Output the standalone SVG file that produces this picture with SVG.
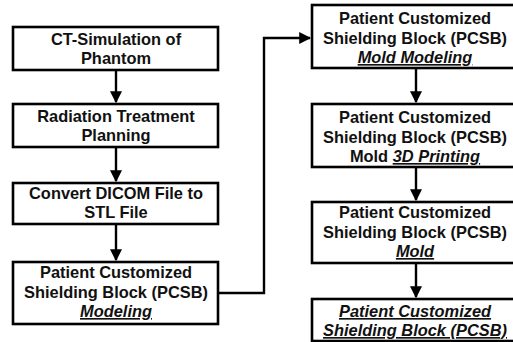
<svg xmlns="http://www.w3.org/2000/svg" width="513" height="342" viewBox="0 0 513 342">
<style>
.box{fill:#fff;stroke:#000;stroke-width:2.6}
.t{font-family:"Liberation Sans",Arial,sans-serif;font-weight:bold;font-size:16.4px;fill:#111;text-anchor:middle}
.u{font-style:italic;text-decoration:underline}
.c{fill:none;stroke:#000;stroke-width:2.4}
</style>
<defs>
<marker id="ah" viewBox="0 0 10 10" refX="9" refY="5" markerWidth="5" markerHeight="5" markerUnits="strokeWidth" orient="auto">
<path d="M0,0 L10,5 L0,10 z" fill="#000"/>
</marker>
</defs>
<rect width="513" height="342" fill="#fff"/>
<g id="connectors">
<line class="c" x1="116" y1="70" x2="116" y2="102" marker-end="url(#ah)"/>
<line class="c" x1="116" y1="147" x2="116" y2="181" marker-end="url(#ah)"/>
<line class="c" x1="116" y1="224" x2="116" y2="260" marker-end="url(#ah)"/>
<polyline class="c" points="218,293 264,293 264,38 310,38" marker-end="url(#ah)"/>
<line class="c" x1="416" y1="68" x2="416" y2="102" marker-end="url(#ah)"/>
<line class="c" x1="416" y1="167" x2="416" y2="200" marker-end="url(#ah)"/>
<line class="c" x1="416" y1="263" x2="416" y2="297" marker-end="url(#ah)"/>
</g>
<g id="n1">
<rect class="box" x="13" y="27" width="205" height="43"/>
<text class="t" x="116" y="45">CT-Simulation of</text>
<text class="t" x="116" y="64">Phantom</text>
</g>
<g id="n2">
<rect class="box" x="13" y="104" width="205" height="43"/>
<text class="t" x="116" y="122">Radiation Treatment</text>
<text class="t" x="116" y="141">Planning</text>
</g>
<g id="n3">
<rect class="box" x="13" y="183" width="205" height="41"/>
<text class="t" x="116" y="199">Convert DICOM File to</text>
<text class="t" x="116" y="218">STL File</text>
</g>
<g id="n4">
<rect class="box" x="13" y="262" width="205" height="62"/>
<text class="t" x="116" y="278">Patient Customized</text>
<text class="t" x="116" y="298">Shielding Block (PCSB)</text>
<text class="t u" x="116" y="317">Modeling</text>
</g>
<g id="n5">
<rect class="box" x="312" y="5" width="206" height="63"/>
<text class="t" x="415" y="24">Patient Customized</text>
<text class="t" x="415" y="44">Shielding Block (PCSB)</text>
<text class="t u" x="415" y="63">Mold Modeling</text>
</g>
<g id="n6">
<rect class="box" x="312" y="104" width="206" height="63"/>
<text class="t" x="415" y="123">Patient Customized</text>
<text class="t" x="415" y="143">Shielding Block (PCSB)</text>
<text class="t" x="415" y="162">Mold <tspan class="u">3D Printing</tspan></text>
</g>
<g id="n7">
<rect class="box" x="312" y="202" width="206" height="61"/>
<text class="t" x="415" y="218">Patient Customized</text>
<text class="t" x="415" y="238">Shielding Block (PCSB)</text>
<text class="t u" x="415" y="257">Mold</text>
</g>
<g id="n8">
<rect class="box" x="312" y="299" width="206" height="42"/>
<text class="t u" x="415" y="317">Patient Customized</text>
<text class="t u" x="415" y="336">Shielding Block (PCSB)</text>
</g>
</svg>
